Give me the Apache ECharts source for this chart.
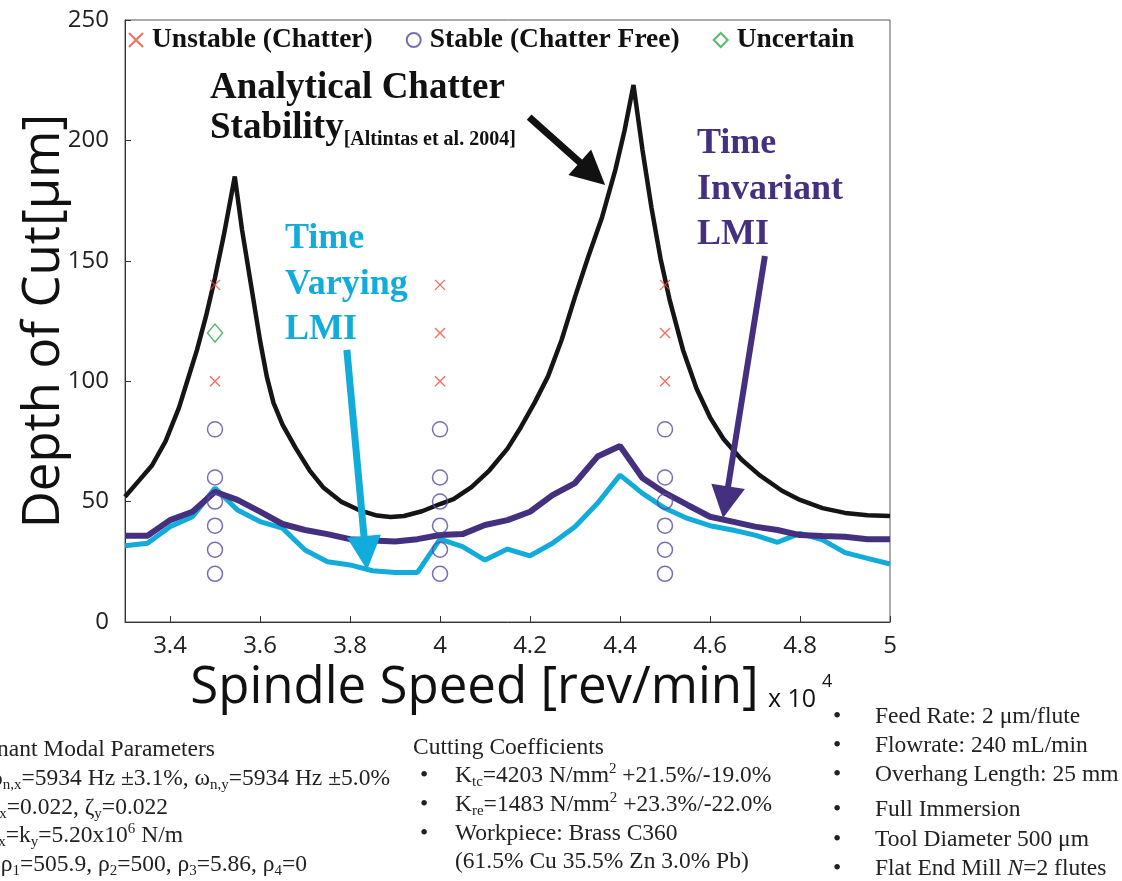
<!DOCTYPE html>
<html>
<head>
<meta charset="utf-8">
<script src="https://cdn.jsdelivr.net/npm/echarts@6/dist/echarts.min.js"></script>
<style>
  html, body { margin: 0; padding: 0; background: #ffffff; }
  #chart { width: 1122px; height: 881px; }
</style>
</head>
<body>
<div id="chart"></div>
<script>
// Analytical stability boundary [Altintas et al. 2004]: spindle speed (rev/min) vs depth of cut (um)
const analyticSpeed = [33000, 33300, 33600, 33900, 34200, 34400, 34600, 34800, 35000, 35200, 35440,
  35600, 35800, 36000, 36150, 36300, 36500, 36800, 37100, 37400, 37800, 38200, 38600, 38900, 39200,
  39600, 40000, 40300, 40700, 41100, 41500, 41800, 42100, 42400, 42700, 43000, 43300, 43600, 43900,
  44100, 44300, 44500, 44700, 44900, 45100, 45400, 45700, 46000, 46300, 46700, 47100, 47600, 48000,
  48500, 49000, 49500, 50000];
const analyticDepth = [52, 58.5, 65, 75, 89, 101, 113, 127, 143, 161, 185,
  163, 140, 117, 102, 91, 82, 72, 63, 56, 50, 46.5, 44.2, 43.6, 44,
  46, 49, 51, 56, 63, 72, 81, 91, 102, 117, 135, 152, 168, 188,
  204, 223, 196, 172, 151, 134, 113, 97, 85, 76, 67.5, 61, 54.5, 50.7,
  47.3, 45.3, 44.3, 44];

// LMI predictions on a 500 rev/min grid
const lmiSpeed = [33000, 33500, 34000, 34500, 35000, 35500, 36000, 36500, 37000, 37500,
  38000, 38500, 39000, 39500, 40000, 40500, 41000, 41500, 42000, 42500,
  43000, 43500, 44000, 44500, 45000, 45500, 46000, 46500, 47000, 47500,
  48000, 48500, 49000, 49500, 50000];
const invariantDepth = [35.8, 35.8, 42.3, 45.8, 54.1, 50.7, 45.8, 40.7, 38.2, 36.5,
  34.4, 33.8, 33.4, 34.4, 36.1, 36.5, 40.3, 42.3, 45.8, 52.7,
  57.7, 68.7, 73.1, 59.8, 53.6, 48.6, 43.7, 41.7, 39.6, 38.2,
  36.1, 35.7, 35.4, 34.4, 34.4];
const varyingDepth = [31.7, 32.7, 39.6, 43.7, 55.6, 46.5, 41.7, 39.0, 29.9, 25.0,
  23.7, 21.3, 20.6, 20.6, 34.4, 31.3, 25.7, 30.3, 27.5, 32.7,
  39.6, 49.3, 61.0, 53.4, 47.2, 43.0, 40.0, 38.2, 36.1, 33.1,
  36.8, 34.1, 28.8, 26.4, 24.1];

// Cutting tests
const unstableSpeed = [35000, 35000, 40000, 40000, 40000, 45000, 45000, 45000];
const unstableDepth = [140, 100, 140, 120, 100, 140, 120, 100];
const stableSpeed = [35000, 35000, 35000, 35000, 35000, 35000,
  40000, 40000, 40000, 40000, 40000, 40000,
  45000, 45000, 45000, 45000, 45000, 45000];
const stableDepth = [80, 60, 50, 40, 30, 20, 80, 60, 50, 40, 30, 20, 80, 60, 50, 40, 30, 20];
const uncertainSpeed = [35000];
const uncertainDepth = [120];

// Annotation arrows, in data coordinates [speed, depth]
const analyticArrow = { from: [41980, 209.7], to: [43670, 181.5] };
const varyingArrow = { from: [37930, 113], to: [38380, 21.6] };
const invariantArrow = { from: [47220, 152], to: [46290, 43.2] };

const zip = (xs, ys) => xs.map((x, i) => [x, ys[i]]);

const AXIS_FONT = 'Open Sans';
const SERIF = 'Liberation Serif';
const BLACK = '#151515';
const PURPLE = '#45307f';
const CYAN = '#12acdc';
const crossPath = 'path://M0,0L10,10M10,0L0,10';

const chart = echarts.init(document.getElementById('chart'), null, { renderer: 'canvas' });

const option = {
  animation: false,
  backgroundColor: '#ffffff',
  grid: {
    left: 125, right: 232, top: 20, bottom: 259,
    outerBoundsMode: 'none', containLabel: false,
    show: true, borderColor: '#555', borderWidth: 1, backgroundColor: 'transparent'
  },
  legend: {
    data: ['Unstable (Chatter)', 'Stable (Chatter Free)', 'Uncertain'],
    left: 123, top: 21, itemGap: 33, itemWidth: 14, itemHeight: 14,
    selectedMode: false,
    textStyle: { fontFamily: SERIF, fontWeight: 'bold', fontSize: 27.5, color: '#111', padding: [0, 0, 0, 4] }
  },
  xAxis: {
    type: 'value', min: 33000, max: 50000, splitNumber: 8,
    name: 'Spindle Speed [rev/min]',
    nameLocation: 'middle', nameGap: 35,
    nameTextStyle: { fontFamily: AXIS_FONT, fontSize: 51, color: '#111', padding: [0, 66, 0, 0] },
    axisLine: { lineStyle: { color: '#333', width: 1 } },
    axisTick: { inside: true, length: 6, lineStyle: { color: '#333' } },
    splitLine: { show: false },
    axisLabel: {
      showMinLabel: false, margin: 12,
      fontFamily: AXIS_FONT, fontSize: 24, color: '#222',
      formatter: v => String(v / 10000)
    }
  },
  yAxis: {
    type: 'value', min: 0, max: 250, interval: 50,
    name: 'Depth of Cut[μm]', nameLocation: 'middle', nameGap: 55, nameRotate: 90,
    nameMoveOverlap: false,
    nameTextStyle: { fontFamily: AXIS_FONT, fontSize: 51, color: '#111' },
    axisLine: { show: true, lineStyle: { color: '#333', width: 1 } },
    axisTick: { show: true, inside: true, length: 6, lineStyle: { color: '#333' } },
    splitLine: { show: false },
    axisLabel: { margin: 16, fontFamily: AXIS_FONT, fontSize: 24, color: '#222' }
  },
  series: [
    {
      name: 'Analytical Chatter Stability', type: 'line', data: zip(analyticSpeed, analyticDepth),
      showSymbol: false, lineStyle: { color: BLACK, width: 4.5 }, z: 2
    },
    {
      name: 'Time Varying LMI', type: 'line', data: zip(lmiSpeed, varyingDepth),
      showSymbol: false, lineStyle: { color: CYAN, width: 5 }, z: 3
    },
    {
      name: 'Time Invariant LMI', type: 'line', data: zip(lmiSpeed, invariantDepth),
      showSymbol: false, lineStyle: { color: PURPLE, width: 6 }, z: 4
    },
    {
      name: 'Unstable (Chatter)', type: 'scatter', data: zip(unstableSpeed, unstableDepth),
      symbol: crossPath, symbolSize: 10, z: 6,
      itemStyle: { color: 'rgba(0,0,0,0)', borderColor: '#ee4a3b', borderWidth: 1.4 }
    },
    {
      name: 'Stable (Chatter Free)', type: 'scatter', data: zip(stableSpeed, stableDepth),
      symbol: 'circle', symbolSize: 15, z: 6,
      itemStyle: { color: 'rgba(0,0,0,0)', borderColor: '#5a4aa0', borderWidth: 1.5 }
    },
    {
      name: 'Uncertain', type: 'scatter', data: zip(uncertainSpeed, uncertainDepth),
      symbol: 'diamond', symbolSize: [15, 18], z: 6,
      itemStyle: { color: 'rgba(0,0,0,0)', borderColor: '#2fa84f', borderWidth: 1.5 }
    }
  ]
};
chart.setOption(option);

// Arrow = shaft + triangular head, positioned from data coordinates
function arrow(a, color, width, headLen, headWid) {
  const p0 = chart.convertToPixel({ gridIndex: 0 }, a.from);
  const p1 = chart.convertToPixel({ gridIndex: 0 }, a.to);
  const dx = p1[0] - p0[0], dy = p1[1] - p0[1];
  const len = Math.hypot(dx, dy);
  const ux = dx / len, uy = dy / len;
  const bx = p1[0] - ux * headLen, by = p1[1] - uy * headLen;
  const px = -uy * headWid / 2, py = ux * headWid / 2;
  return [
    { type: 'line', z: 20, shape: { x1: p0[0], y1: p0[1], x2: bx + ux * 2, y2: by + uy * 2 },
      style: { stroke: color, lineWidth: width } },
    { type: 'polygon', z: 20, shape: { points: [[p1[0], p1[1]], [bx + px, by + py], [bx - px, by - py]] },
      style: { fill: color } }
  ];
}

const bodyFont = { fontFamily: SERIF, fontSize: 23.5, fill: '#222', lineHeight: 28 };
const richSub = {
  sub: { fontFamily: SERIF, fontSize: 15, fill: '#222', lineHeight: 15, verticalAlign: 'bottom' },
  sup: { fontFamily: SERIF, fontSize: 15, fill: '#222', lineHeight: 15, verticalAlign: 'top' },
  it: { fontFamily: SERIF, fontSize: 23.5, fill: '#222', fontStyle: 'italic' }
};
function line(text, x, y, align) {
  return {
    type: 'text', z: 30, x: x, y: y,
    style: Object.assign({ text: text, align: align || 'left', verticalAlign: 'middle', rich: richSub }, bodyFont)
  };
}

const notes = [
  // modal parameters (left block)
  line('Dominant Modal Parameters', 215, 750, 'right'),
  line('•   ω{sub|n,x}=5934 Hz ±3.1%, ω{sub|n,y}=5934 Hz ±5.0%', 390, 779, 'right'),
  line('•   ζ{sub|x}=0.022, ζ{sub|y}=0.022', 168, 808, 'right'),
  line('•   k{sub|x}=k{sub|y}=5.20x10{sup|6} N/m', 183, 836, 'right'),
  line('•   ρ{sub|1}=505.9, ρ{sub|2}=500, ρ{sub|3}=5.86, ρ{sub|4}=0', 307, 865, 'right'),
  // cutting coefficients
  line('Cutting Coefficients', 413, 748),
  line('•', 420, 776), line('K{sub|tc}=4203 N/mm{sup|2} +21.5%/-19.0%', 455, 776),
  line('•', 420, 805), line('K{sub|re}=1483 N/mm{sup|2} +23.3%/-22.0%', 455, 805),
  line('•', 420, 834), line('Workpiece: Brass C360', 455, 834),
  line('(61.5% Cu 35.5% Zn 3.0% Pb)', 455, 862),
  // process conditions
  line('•', 833, 717), line('Feed Rate: 2 μm/flute', 875, 717),
  line('•', 833, 746), line('Flowrate: 240 mL/min', 875, 746),
  line('•', 833, 775), line('Overhang Length: 25 mm', 875, 775),
  line('•', 833, 810), line('Full Immersion', 875, 810),
  line('•', 833, 840), line('Tool Diameter 500 μm', 875, 840),
  line('•', 833, 869), line('Flat End Mill {it|N}=2 flutes', 875, 869)
];

const labels = [
  // axis multiplier next to the x-axis title
  { type: 'text', z: 25, x: 768, y: 700,
    style: { text: 'x 10', fontFamily: AXIS_FONT, fontSize: 25, fill: '#111', align: 'left', verticalAlign: 'middle' } },
  { type: 'text', z: 25, x: 822, y: 682,
    style: { text: '4', fontFamily: AXIS_FONT, fontSize: 18, fill: '#111', align: 'left', verticalAlign: 'middle' } },
  { type: 'text', z: 25, x: 210, y: 88,
    style: { text: 'Analytical Chatter', fontFamily: SERIF, fontWeight: 'bold', fontSize: 37, fill: '#111',
             align: 'left', verticalAlign: 'middle' } },
  { type: 'text', z: 25, x: 210, y: 128,
    style: { text: '{b|Stability}{s|[Altintas et al. 2004]}', align: 'left', verticalAlign: 'middle',
             rich: {
               b: { fontFamily: SERIF, fontWeight: 'bold', fontSize: 37, fill: '#111', lineHeight: 44 },
               s: { fontFamily: SERIF, fontWeight: 'bold', fontSize: 20, fill: '#111', lineHeight: 22, verticalAlign: 'bottom' }
             } } },
  { type: 'text', z: 25, x: 285, y: 216,
    style: { text: 'Time\nVarying\nLMI', fontFamily: SERIF, fontWeight: 'bold', fontSize: 36, fill: CYAN,
             lineHeight: 45.5, align: 'left', verticalAlign: 'top' } },
  { type: 'text', z: 25, x: 697, y: 121,
    style: { text: 'Time\nInvariant\nLMI', fontFamily: SERIF, fontWeight: 'bold', fontSize: 36, fill: PURPLE,
             lineHeight: 45.5, align: 'left', verticalAlign: 'top' } }
];

const arrows = [].concat(
  arrow(analyticArrow, '#111', 7, 34, 34),
  arrow(varyingArrow, CYAN, 7, 34, 34),
  arrow(invariantArrow, PURPLE, 6, 32, 34)
);

chart.setOption({ graphic: labels.concat(notes, arrows) });
</script>
</body>
</html>
